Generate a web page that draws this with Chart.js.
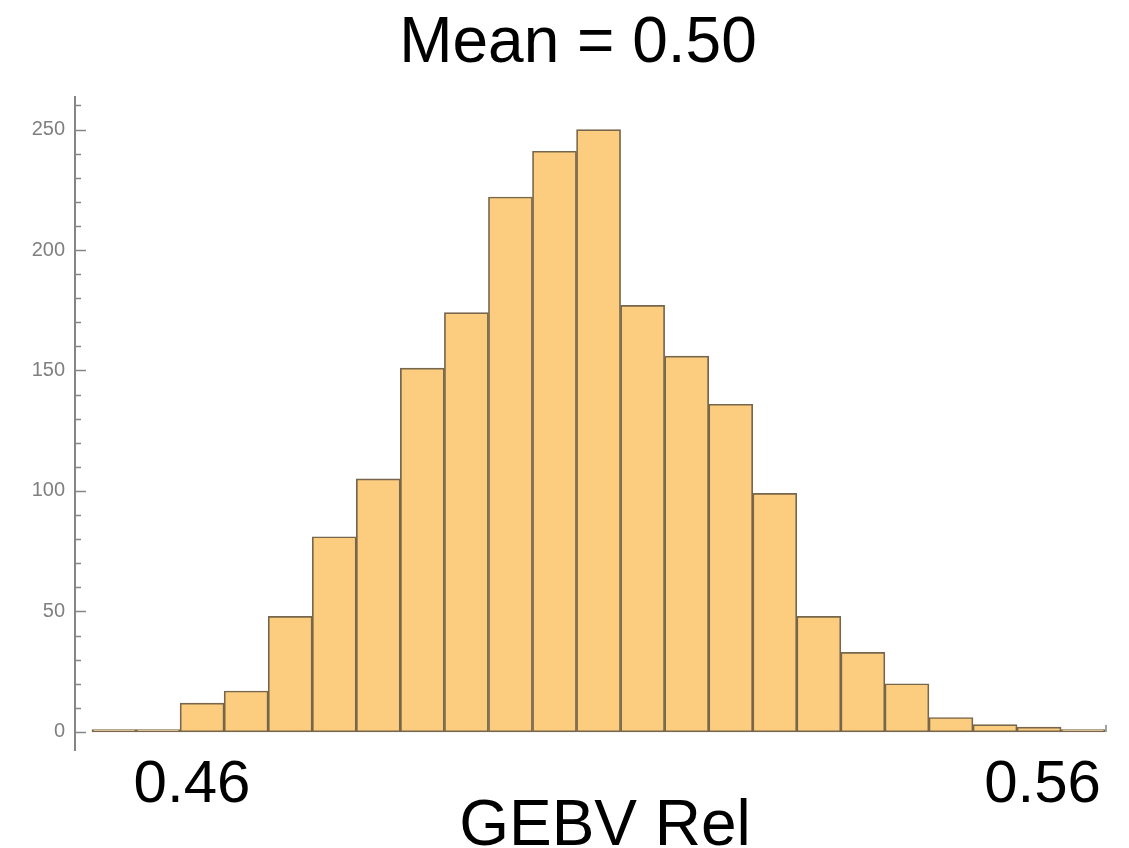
<!DOCTYPE html>
<html>
<head>
<meta charset="utf-8">
<title>GEBV Rel</title>
<script src="https://cdn.jsdelivr.net/npm/chart.js@4.4.1/dist/chart.umd.min.js"></script>
<style>
  html, body { margin: 0; padding: 0; background: #fff; }
  #wrap { width: 1129px; height: 848px; position: relative; }
</style>
</head>
<body>
<div id="wrap"><canvas id="hist"></canvas></div>
<script>
/* ---- Datos ---- */
// counts per bin, left to right
const counts = [1, 1, 12, 17, 48, 81, 105, 151, 174, 222, 241, 250, 177, 156, 136, 99, 48, 33, 20, 6, 3, 2, 1];
// the two big labels under the axis, positions given in bin units
const xTickLabels = ["0.46", "0.56"];
const xTickAt     = [2.27, 21.58];
const yMajorStep  = 50;
const yMinorStep  = 10;
const yTickMax    = 260;
const titleText   = "Mean = 0.50";
const xTitleText  = "GEBV Rel";

/* ---- Estilo ---- */
const FONT       = "'Liberation Sans', Arial, Helvetica, sans-serif";
const BAR_FILL   = "#fccd7e";
const BAR_EDGE   = "#76664c";
const AXIS_COLOR = "#858585";

// axis ticks drawn Mathematica style (pointing into the plot) + big texts
const mmaAxes = {
  id: "mmaAxes",
  afterDatasetsDraw(chart) {
    const { ctx, scales: { x, y } } = chart;
    ctx.save();
    ctx.strokeStyle = AXIS_COLOR;
    ctx.lineWidth = 1.5;
    y.ticks.forEach(t => {
      const v = t.value;
      const py = Math.round(y.getPixelForValue(v)) + 0.5;
      const len = v % yMajorStep === 0 ? 11 : 6;
      ctx.beginPath();
      ctx.moveTo(x.left, py);
      ctx.lineTo(x.left + len, py);
      ctx.stroke();
    });
    // small end mark of the horizontal axis
    const y0 = y.getPixelForValue(0);
    ctx.beginPath();
    ctx.moveTo(x.right, y0);
    ctx.lineTo(x.right, y0 - 7);
    ctx.stroke();
    ctx.restore();
  },
  afterDraw(chart) {
    const { ctx } = chart;
    ctx.save();
    ctx.fillStyle = "#000";
    ctx.textAlign = "center";
    ctx.textBaseline = "alphabetic";
    ctx.font = "64px " + FONT;
    ctx.fillText(titleText, 578, 62);
    ctx.fillText(xTitleText, 605, 845);
    ctx.restore();
  }
};

const ctx = document.getElementById("hist").getContext("2d");

new Chart(ctx, {
  type: "bar",
  data: {
    datasets: [{
      label: "GEBV Rel",
      data: counts.map((c, i) => ({ x: i + 0.5, y: c })),
      backgroundColor: BAR_FILL,
      borderColor: BAR_EDGE,
      borderWidth: 1.7,
      borderSkipped: false,
      barPercentage: 1,
      categoryPercentage: 1,
    }],
  },
  options: {
    responsive: true,
    maintainAspectRatio: false,
    animation: false,
    layout: { padding: { left: 0, right: 23, top: 97, bottom: 0 } },
    plugins: {
      legend: { display: false },
      title: { display: false },
      tooltip: { enabled: false },
    },
    scales: {
      x: {
        type: "linear",
        offset: false,
        min: -0.386,
        max: 23.02,
        grid: { display: false },
        border: { display: false },
        afterBuildTicks: scale => { scale.ticks = xTickAt.map(v => ({ value: v })); },
        afterFit: scale => { scale.height = 98; },
        ticks: {
          autoSkip: false,
          maxRotation: 0,
          padding: -9,
          color: "#000",
          font: { family: FONT, size: 60 },
          callback: (v, i) => xTickLabels[i],
        },
      },
      y: {
        min: -7.5,
        max: 263.5,
        grid: { display: false, drawTicks: false },
        border: { display: true, color: AXIS_COLOR, width: 2 },
        afterFit: scale => { scale.width = 75; },
        afterBuildTicks: scale => {
          const t = [];
          for (let v = 0; v <= yTickMax; v += yMinorStep) t.push({ value: v });
          scale.ticks = t;
        },
        ticks: {
          autoSkip: false,
          padding: 10,
          color: "#7f7f7f",
          font: { family: FONT, size: 20 },
          callback: v => (v % yMajorStep === 0) ? String(v) : "",
        },
      },
    },
  },
  plugins: [mmaAxes],
});
</script>
</body>
</html>
